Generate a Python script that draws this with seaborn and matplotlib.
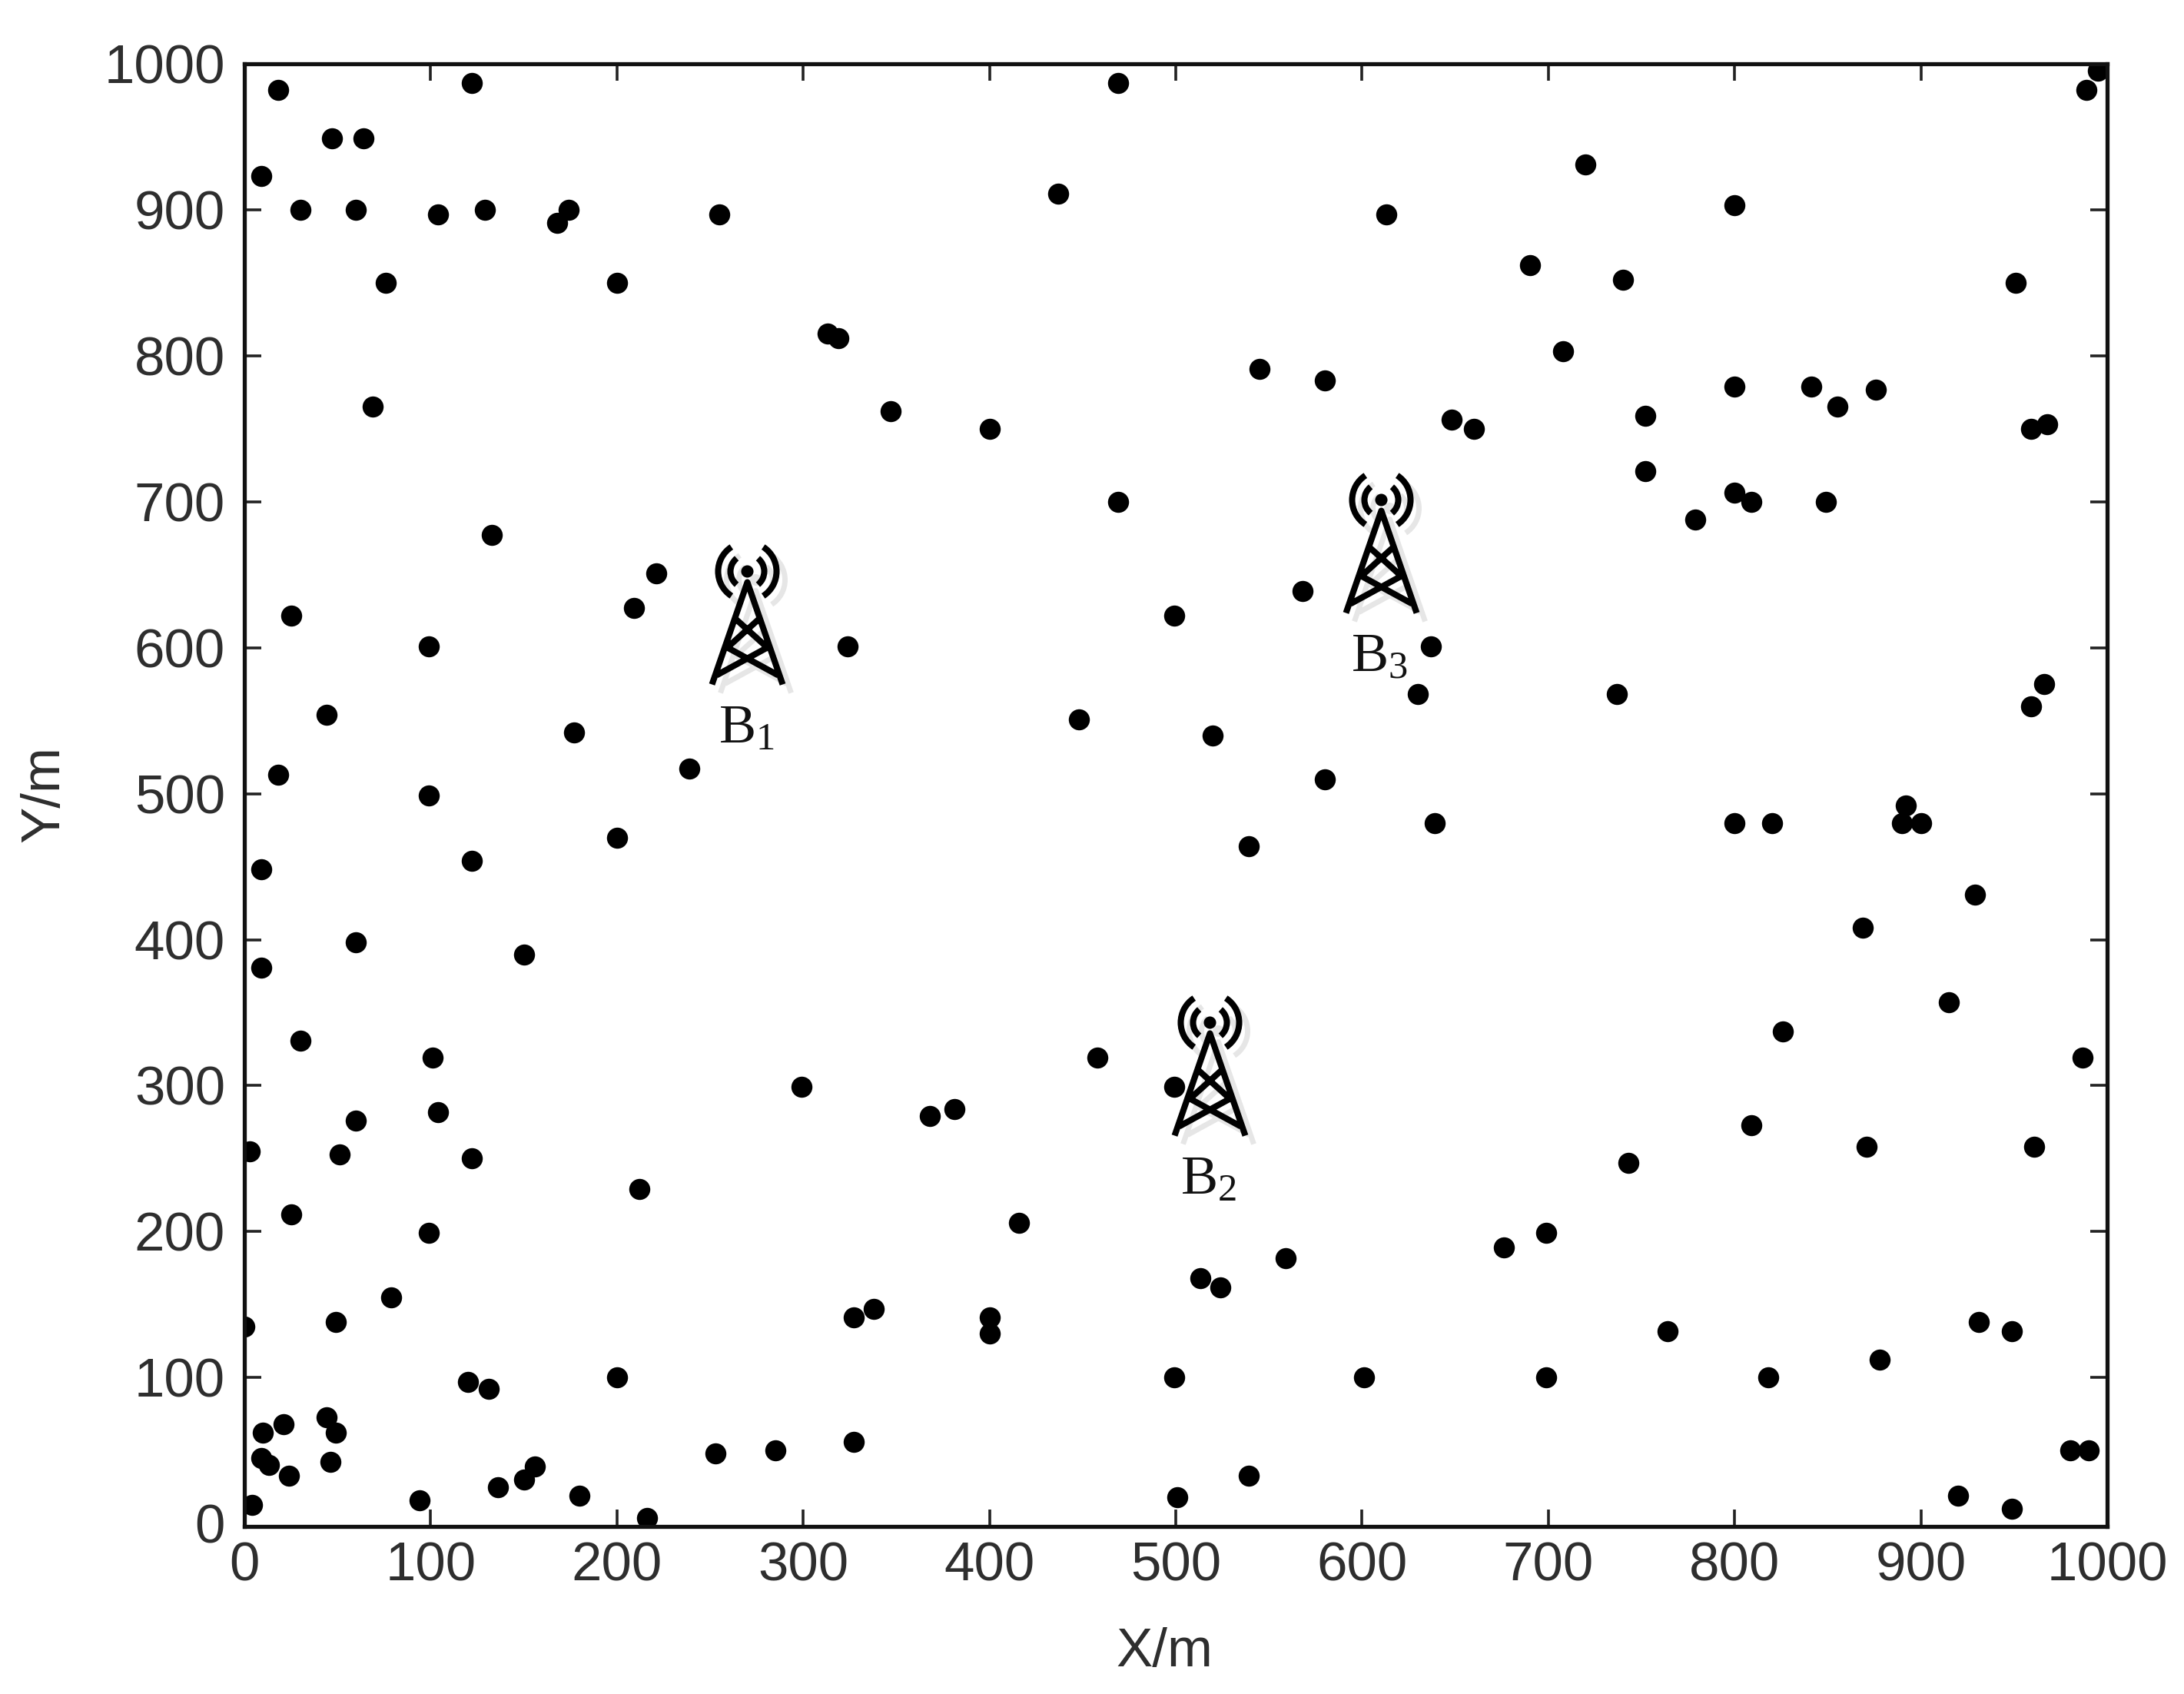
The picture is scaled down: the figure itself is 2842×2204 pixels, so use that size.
import numpy as np
import pandas as pd
import matplotlib
matplotlib.use("Agg")
import matplotlib.pyplot as plt
import seaborn as sns
from matplotlib.path import Path
from matplotlib.markers import MarkerStyle
from matplotlib.transforms import Affine2D, ScaledTranslation

node_x = [18,122,469,989,995,47,64,9,30,60,104,129,168,174,255,437,613,720,800,690,740,951,76,200,
          313,319,708,545,580,800,841,855,876,69,347,400,648,660,752,959,968,752,469,800,809,849,779,
          133,221,209,25,499,568,99,324,637,630,737,966,959,44,448,177,520,18,239,580,99,200,539,639,
          800,820,890,892,900,122,9,929,869,60,150,9,915,30,826,101,458,987,299,499,368,381,104,60,809,
          3,51,122,871,961,743,212,25,416,99,699,676,559,513,524,79,327,338,400,400,49,0,764,931,949,
          878,120,131,200,499,601,699,818,44,49,21,10,9,13,24,46,327,285,253,980,990,156,150,136,180,
          94,4,216,501,539,920,949]
node_y = [982,987,987,982,995,949,949,923,900,900,897,900,891,900,897,911,897,931,903,862,852,850,850,850,
          815,812,803,791,783,779,779,765,777,765,762,750,756,750,759,750,753,721,700,706,700,700,688,
          677,651,627,622,622,639,601,601,601,568,568,575,560,554,551,542,540,513,517,510,499,470,464,480,
          480,480,480,492,480,454,448,431,408,398,390,381,357,331,337,319,319,319,299,299,279,284,282,276,273,
          255,253,250,258,258,247,229,212,206,199,199,189,182,168,162,155,141,147,141,130,138,135,132,138,132,
          112,97,92,100,100,100,100,100,73,62,68,62,45,40,33,42,56,50,48,50,50,39,30,25,19,
          16,13,4,18,33,19,10]
station_x = [270, 518, 610]
station_y = [614, 305, 663]
station_labels = [r"$\mathrm{B_1}$", r"$\mathrm{B_2}$", r"$\mathrm{B_3}$"]
tick_values = [0,100,200,300,400,500,600,700,800,900,1000]
x_label = "X/m"
y_label = "Y/m"

sns.set_style("ticks")
plt.rcParams["font.family"] = ["Liberation Sans", "DejaVu Sans"]
plt.rcParams["mathtext.fontset"] = "custom"
plt.rcParams["mathtext.rm"] = "Liberation Serif"

W, H = 2842, 2204
DPI = 100
fig = plt.figure(figsize=(W / DPI, H / DPI), dpi=DPI, facecolor="white")
ax = fig.add_axes([318 / W, 1 - 1986 / H, (2742 - 318) / W, (1986 - 83) / H])

nodes = pd.DataFrame({"x": node_x, "y": node_y})
sns.scatterplot(data=nodes, x="x", y="y", ax=ax, color="black", s=390,
                marker="o", linewidth=0, zorder=3)

ax.set_xlim(0, 1000)
ax.set_ylim(-2, 1000)
ax.set_xticks(tick_values)
ax.set_yticks(tick_values)
TXT = "#2e2e2e"
ax.tick_params(axis="both", which="major", direction="in", length=16, width=2.6,
               top=True, right=True, labelsize=51, labelcolor=TXT, color="#222222")
ax.tick_params(axis="x", pad=14)
ax.tick_params(axis="y", pad=18)
first_y = ax.yaxis.get_major_ticks()[0]
first_y.tick1line.set_visible(False)
first_y.tick2line.set_visible(False)
for s in ax.spines.values():
    s.set_linewidth(3.8)
    s.set_color("#111111")
    s.set_zorder(4)
ax.set_xlabel("")
ax.set_ylabel("")
fig.text(1515 / W, 1 - 2150 / H, x_label, fontsize=51, color=TXT, ha="center", va="center")
fig.text(58 / W, 1 - 1033 / H, y_label, fontsize=51, color=TXT, ha="center", va="center", rotation=90)


def tower_marker():
    """Antenna icon in pixel offsets from the tower's centre (y up); returns path."""
    legs = Path([(-46, -74), (0, 59), (46, -74)], [Path.MOVETO, Path.LINETO, Path.LINETO])
    bars = [((-15, 11), (26, -26)), ((15, 11), (-26, -26)),
            ((-26, -26), (40, -62)), ((26, -26), (-40, -62))]
    parts = [legs] + [Path(b) for b in bars]
    for r, t1, t2 in [(38, 123, 237), (22, 129, 231), (38, -57, 57), (22, -51, 51)]:
        parts.append(Path.arc(t1, t2).transformed(Affine2D().scale(r).translate(0, 73)))
    parts.append(Path.circle((0, 73), 4))
    return Path.make_compound_path(*parts)


tower = tower_marker()
extent_px = np.abs(tower.vertices).max()
ms_pts = 2 * extent_px * 72 / DPI
mk = MarkerStyle(tower)
shadow_tf = ax.transData + ScaledTranslation(11 / DPI, -11 / DPI, fig.dpi_scale_trans)
ax.plot(station_x, station_y, ls="none", marker=mk, ms=ms_pts, mec="#e6e6e6", mfc="none",
        mew=5.0, transform=shadow_tf, zorder=4.5, clip_on=False)
ax.plot(station_x, station_y, ls="none", marker=mk, ms=ms_pts, mec="black", mfc="none",
        mew=5.8, zorder=5, clip_on=False)

for sx, sy, lab in zip(station_x, station_y, station_labels):
    ax.annotate(lab, (sx, sy), xytext=(-1, -95), textcoords="offset points",
                ha="center", va="center", fontsize=52, color="#111111", zorder=6)

fig.savefig("out.png", dpi=DPI, facecolor="white")
